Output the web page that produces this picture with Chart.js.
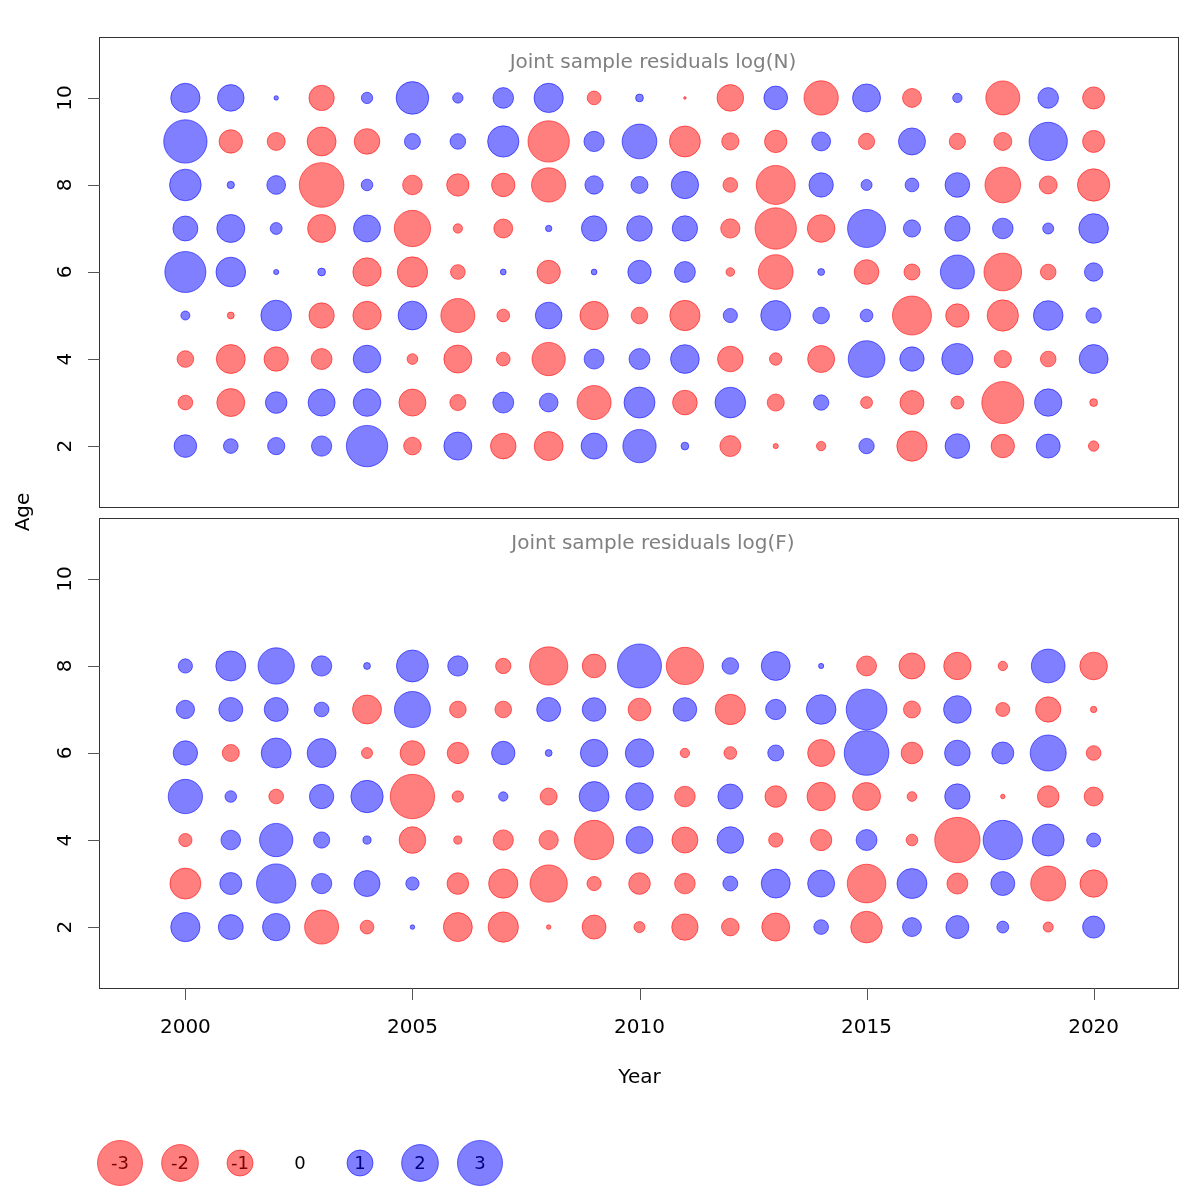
<!DOCTYPE html>
<html><head><meta charset="utf-8">
<script src="https://cdn.jsdelivr.net/npm/chart.js@4.4.1/dist/chart.umd.min.js"></script>
<style>
html,body{margin:0;padding:0;background:#fff;}
#wrap{position:relative;width:1200px;height:1200px;overflow:hidden;background:#fff;}
canvas{position:absolute;left:0;}
</style></head><body>
<div id="wrap">
<canvas id="cN" width="1200" height="512" style="top:0px"></canvas>
<canvas id="cF" width="1200" height="640" style="top:480px"></canvas>
<canvas id="cL" width="600" height="80" style="top:1120px"></canvas>
</div>
<script>
// ---------------- data ----------------
const years = [2000,2001,2002,2003,2004,2005,2006,2007,2008,2009,2010,2011,2012,2013,2014,2015,2016,2017,2018,2019,2020];
const agesN = [2,3,4,5,6,7,8,9,10];
const agesF = [2,3,4,5,6,7,8];

const logN_age10 = [1.27,1.05,0.03,-0.95,0.19,1.58,0.16,0.63,1.27,-0.28,0.09,-0.01,-1.05,0.83,-1.74,1.16,-0.53,0.13,-1.71,0.63,-0.72];
const logN_age9  = [2.78,-0.81,-0.48,-1.24,-0.97,0.38,0.36,1.45,-2.53,0.61,1.78,-1.42,-0.44,-0.74,0.53,-0.39,1.08,-0.39,-0.48,2.17,-0.72];
const logN_age8  = [1.48,0.08,0.52,-2.95,0.20,-0.57,-0.74,-0.81,-1.74,0.50,0.43,1.11,-0.32,-2.25,0.88,0.18,0.28,0.90,-1.88,-0.48,-1.55];
const logN_age7  = [0.92,1.16,0.21,-1.16,1.08,-1.95,-0.13,-0.53,0.06,0.95,0.97,0.95,-0.55,-2.53,-1.13,2.14,0.44,0.95,0.63,0.18,1.30];
const logN_age6  = [2.49,1.30,0.04,0.09,-1.19,-1.36,-0.32,0.05,-0.81,0.05,0.81,0.65,-0.11,-1.78,0.07,-0.90,-0.38,1.71,-2.10,-0.36,0.50];
const logN_age5  = [0.12,-0.07,1.39,-0.95,-1.19,1.22,-1.71,-0.24,1.05,-1.19,-0.41,-1.36,0.30,1.33,0.41,0.24,-2.25,-0.81,-1.45,1.30,0.35];
const logN_age4  = [-0.41,-1.24,-0.88,-0.65,1.13,-0.17,-1.16,-0.28,-1.64,0.59,0.65,1.22,-0.97,-0.23,-1.08,1.99,0.88,1.45,-0.44,-0.36,1.24];
const logN_age3  = [-0.32,-1.16,0.69,1.08,1.13,-1.08,-0.38,0.65,0.52,-1.71,1.42,-0.90,1.39,-0.43,0.35,-0.21,-0.85,-0.25,-2.61,1.11,-0.09];
const logN_age2  = [0.76,0.32,0.44,0.61,2.53,-0.46,1.16,-0.97,-1.24,1.00,1.64,0.09,-0.65,-0.04,-0.13,0.35,-1.36,0.90,-0.81,0.85,-0.16];

const logF_age8 = [0.30,1.33,1.95,0.61,0.07,1.51,0.61,-0.35,-2.17,-0.83,2.86,-2.06,0.41,1.24,0.04,-0.59,-1.00,-1.11,-0.13,1.68,-1.13];
const logF_age7 = [0.50,0.85,0.85,0.32,-1.24,1.92,-0.41,-0.41,0.85,0.83,-0.76,0.83,-1.36,0.61,1.30,2.45,-0.43,1.13,-0.29,-0.95,-0.06];
const logF_age6 = [0.88,-0.43,1.33,1.24,-0.18,-0.90,-0.67,0.81,0.07,1.11,1.19,-0.13,-0.24,0.38,-1.08,2.95,-0.69,0.97,0.72,1.92,-0.32];
const logF_age5 = [1.74,0.20,-0.32,0.88,1.55,-2.91,-0.19,0.13,-0.43,1.33,1.13,-0.63,0.92,-0.69,-1.19,-1.16,-0.14,0.95,-0.03,-0.69,-0.53];
const logF_age4 = [-0.26,0.57,1.64,0.39,0.10,-1.05,-0.10,-0.61,-0.55,-2.29,1.08,-1.00,1.05,-0.30,-0.67,0.65,-0.20,-3.04,2.29,1.51,0.29];
const logF_age3 = [-1.42,0.72,2.29,0.61,1.00,0.26,-0.69,-1.27,-2.06,-0.30,-0.69,-0.63,0.33,1.24,1.08,-2.21,1.33,-0.65,0.85,-1.81,-1.11];
const logF_age2 = [1.27,0.92,1.11,-1.71,-0.28,0.03,-1.24,-1.36,-0.03,-0.85,-0.18,-1.03,-0.46,-1.16,0.32,-1.48,0.53,0.78,0.21,-0.15,0.72];

const yTickValues = [2,4,6,8,10];
const xTickValues = [2000,2005,2010,2015,2020];
const legendValues = [-3,-2,-1,0,1,2,3];
const titleN = 'Joint sample residuals log(N)';
const titleF = 'Joint sample residuals log(F)';
const xLabel = 'Year';
const yLabel = 'Age';

// ---------------- styling ----------------
const FONT = '"DejaVu Sans", "Liberation Sans", sans-serif';
const RED_FILL = 'rgba(255,0,0,0.5)';
const BLUE_FILL = 'rgba(0,0,255,0.5)';
const RED_EDGE = 'rgba(255,0,0,0.55)';
const BLUE_EDGE = 'rgba(0,0,255,0.55)';
const RSCALE = 13;
const radiusOf = v => RSCALE * Math.sqrt(Math.abs(v));

function buildPoints(rows, ages) {
  const pts = [];
  ages.forEach((a, i) => rows[i].forEach((v, j) => pts.push({x: years[j], y: a, v: v})));
  return pts;
}

const ptsN = buildPoints([logN_age2,logN_age3,logN_age4,logN_age5,logN_age6,logN_age7,logN_age8,logN_age9,logN_age10], agesN);
const ptsF = buildPoints([logF_age2,logF_age3,logF_age4,logF_age5,logF_age6,logF_age7,logF_age8], agesF);

function bubbleDataset(pts) {
  return {
    data: pts,
    clip: false,
    radius: c => radiusOf(c.raw.v),
    backgroundColor: c => c.raw.v < 0 ? RED_FILL : BLUE_FILL,
    borderColor: c => c.raw.v < 0 ? RED_EDGE : BLUE_EDGE,
    borderWidth: 1,
    hoverRadius: 0
  };
}

const panelPlugin = {
  id: 'panelAxes',
  afterDraw(chart, args, opts) {
    const ctx = chart.ctx;
    const a = chart.chartArea;
    const xs = chart.scales.x, ys = chart.scales.y;
    ctx.save();
    // box
    ctx.strokeStyle = '#333';
    ctx.lineWidth = 1;
    ctx.strokeRect(Math.round(a.left) - 0.5, Math.round(a.top) + 0.5, Math.round(a.right - a.left), Math.round(a.bottom - a.top));
    // y ticks
    ctx.strokeStyle = '#555';
    ctx.fillStyle = '#000';
    ctx.font = '20px ' + FONT;
    yTickValues.forEach(t => {
      const py = Math.round(ys.getPixelForValue(t)) + 0.5;
      ctx.beginPath();
      ctx.moveTo(a.left - 12, py);
      ctx.lineTo(a.left, py);
      ctx.stroke();
      ctx.save();
      ctx.translate(a.left - 35, ys.getPixelForValue(t));
      ctx.rotate(-Math.PI / 2);
      ctx.textAlign = 'center';
      ctx.textBaseline = 'middle';
      ctx.fillText(String(t), 0, 1);
      ctx.restore();
    });
    // title
    ctx.fillStyle = '#808080';
    ctx.textAlign = 'center';
    ctx.textBaseline = 'alphabetic';
    ctx.fillText(opts.title, (a.left + a.right) / 2 + 13.5, a.top + 30.5);
    if (opts.xAxis) {
      ctx.fillStyle = '#000';
      ctx.strokeStyle = '#555';
      xTickValues.forEach(t => {
        const px = Math.round(xs.getPixelForValue(t)) + 0.5;
        ctx.beginPath();
        ctx.moveTo(px, a.bottom);
        ctx.lineTo(px, a.bottom + 12);
        ctx.stroke();
        ctx.textAlign = 'center';
        ctx.textBaseline = 'alphabetic';
        ctx.fillText(String(t), xs.getPixelForValue(t), a.bottom + 45);
      });
      ctx.textBaseline = 'middle';
      ctx.fillText(xLabel, (a.left + a.right) / 2, a.bottom + 90);
      ctx.save();
      ctx.translate(24, a.top - 6);
      ctx.rotate(-Math.PI / 2);
      ctx.textAlign = 'center';
      ctx.textBaseline = 'middle';
      ctx.fillText(yLabel, 0, 0);
      ctx.restore();
    }
    ctx.restore();
  }
};

function panelOptions(padTop, padBottom, title, xAxis) {
  return {
    responsive: false,
    animation: false,
    devicePixelRatio: 1,
    events: [],
    layout: {autoPadding: false, padding: {left: 100, right: 21, top: padTop, bottom: padBottom}},
    plugins: {
      legend: {display: false},
      tooltip: {enabled: false},
      panelAxes: {title: title, xAxis: xAxis}
    },
    scales: {
      x: {type: 'linear', min: 1998.12, max: 2021.88, display: false},
      y: {type: 'linear', min: 0.6, max: 11.4, display: false}
    }
  };
}

new Chart(document.getElementById('cN'), {
  type: 'bubble',
  data: {datasets: [bubbleDataset(ptsN)]},
  options: panelOptions(37, 5, titleN, false),
  plugins: [panelPlugin]
});

new Chart(document.getElementById('cF'), {
  type: 'bubble',
  data: {datasets: [bubbleDataset(ptsF)]},
  options: panelOptions(38, 132, titleF, true),
  plugins: [panelPlugin]
});

// legend chart
const legendPlugin = {
  id: 'legendLabels',
  afterDatasetsDraw(chart) {
    const ctx = chart.ctx;
    const meta = chart.getDatasetMeta(0);
    ctx.save();
    ctx.font = '18px ' + FONT;
    ctx.textAlign = 'center';
    ctx.textBaseline = 'middle';
    meta.data.forEach((el, i) => {
      const v = legendValues[i];
      ctx.fillStyle = v < 0 ? '#7a0000' : (v > 0 ? '#00007a' : '#000');
      ctx.fillText(String(v), el.x, el.y + 1);
    });
    ctx.restore();
  }
};

new Chart(document.getElementById('cL'), {
  type: 'bubble',
  data: {datasets: [{
    data: legendValues.map(v => ({x: v, y: 0, v: v})),
    clip: false,
    radius: c => radiusOf(c.raw.v),
    backgroundColor: c => c.raw.v < 0 ? RED_FILL : BLUE_FILL,
    borderColor: c => c.raw.v < 0 ? RED_EDGE : BLUE_EDGE,
    borderWidth: 1,
    hoverRadius: 0
  }]},
  options: {
    responsive: false,
    animation: false,
    devicePixelRatio: 1,
    events: [],
    layout: {autoPadding: false, padding: {left: 90, right: 90, top: 6, bottom: 0}},
    plugins: {legend: {display: false}, tooltip: {enabled: false}},
    scales: {
      x: {type: 'linear', min: -3.5, max: 3.5, display: false},
      y: {type: 'linear', min: -1, max: 1, display: false}
    }
  },
  plugins: [legendPlugin]
});
</script>
</body></html>
